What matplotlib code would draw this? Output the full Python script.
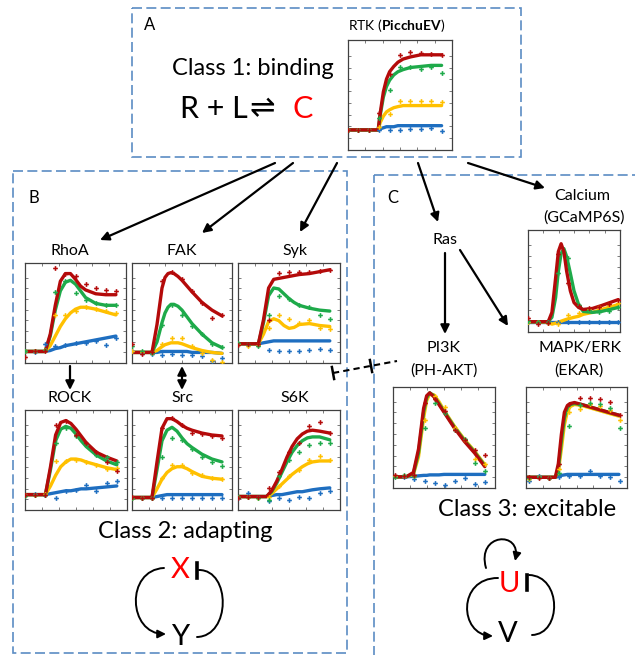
import matplotlib
matplotlib.use("Agg")
import matplotlib.pyplot as plt
from matplotlib.patches import Rectangle, FancyArrowPatch
from matplotlib.path import Path

plt.rcParams['font.family'] = ['Lato', 'DejaVu Sans']
plt.rcParams['mathtext.fontset'] = 'custom'
plt.rcParams['mathtext.rm'] = 'Lato'
plt.rcParams['mathtext.bf'] = 'Lato:bold'

# ---------------- data (series order: blue, yellow, green, red) ----------------
SERIES_COLORS = ['#1E6EC0', '#FFC000', '#1EAA4A', '#B40A0A']

# Class 1 : RTK (PicchuEV)
RTK_T = [0, 2.9, 3.1, 3.4, 3.7, 4.0, 4.4, 4.8, 5.3, 6, 7, 8, 9]
RTK_FIT = [
    [0.19, 0.19, 0.20, 0.21, 0.22, 0.22, 0.22, 0.23, 0.23, 0.23, 0.23, 0.23, 0.23],
    [0.19, 0.19, 0.26, 0.32, 0.36, 0.38, 0.40, 0.41, 0.42, 0.42, 0.42, 0.42, 0.42],
    [0.19, 0.19, 0.33, 0.50, 0.60, 0.66, 0.71, 0.74, 0.76, 0.78, 0.79, 0.80, 0.80],
    [0.19, 0.19, 0.35, 0.55, 0.67, 0.74, 0.79, 0.83, 0.86, 0.88, 0.90, 0.90, 0.90],
]
RTK_DT = [0, 1, 2, 3, 4, 5, 6, 7, 8, 9]
RTK_DOTS = [
    [0.19, 0.19, 0.19, 0.19, 0.19, 0.19, 0.20, 0.20, 0.21, 0.18],
    [0.19, 0.19, 0.19, 0.22, 0.34, 0.46, 0.46, 0.46, 0.46, 0.45],
    [0.19, 0.19, 0.19, 0.30, 0.57, 0.78, 0.78, 0.77, 0.78, 0.73],
    [0.19, 0.19, 0.19, 0.35, 0.72, 0.90, 0.93, 0.92, 0.91, 0.90],
]

# Class 2 : RhoA
RHOA_T = [0, 2, 2.5, 3, 3.5, 4, 4.5, 5, 5.5, 6, 7, 8, 9]
RHOA_FIT = [
    [0.12, 0.12, 0.13, 0.15, 0.16, 0.18, 0.19, 0.20, 0.21, 0.22, 0.24, 0.26, 0.28],
    [0.12, 0.12, 0.18, 0.28, 0.38, 0.46, 0.52, 0.56, 0.58, 0.58, 0.56, 0.53, 0.50],
    [0.12, 0.12, 0.28, 0.55, 0.75, 0.84, 0.86, 0.82, 0.75, 0.68, 0.62, 0.60, 0.60],
    [0.12, 0.12, 0.30, 0.60, 0.85, 0.93, 0.93, 0.87, 0.80, 0.76, 0.72, 0.71, 0.71],
]
RHOA_DT = [0, 1, 2, 3, 4, 5, 6, 7, 8, 9]
RHOA_DOTS = [
    [0.12, 0.11, 0.20, 0.18, 0.19, 0.21, 0.21, 0.23, 0.19, 0.26],
    [0.12, 0.12, 0.14, 0.50, 0.50, 0.54, 0.58, 0.56, 0.54, 0.52],
    [0.12, 0.12, 0.14, 0.74, 0.85, 0.73, 0.66, 0.62, 0.60, 0.60],
    [0.06, 0.12, 0.12, 0.99, 0.93, 0.90, 0.82, 0.78, 0.76, 0.75],
]

# FAK
FAK_T = [0, 2, 2.5, 3, 3.3, 3.6, 3.9, 4.2, 4.6, 5, 5.5, 6, 7, 8, 9]
FAK_FIT = [
    [0.11, 0.11, 0.11, 0.12, 0.12, 0.12, 0.12, 0.12, 0.12, 0.12, 0.12, 0.11, 0.11, 0.11, 0.10],
    [0.11, 0.11, 0.13, 0.17, 0.19, 0.20, 0.21, 0.21, 0.21, 0.20, 0.18, 0.16, 0.13, 0.11, 0.10],
    [0.11, 0.11, 0.22, 0.42, 0.52, 0.58, 0.61, 0.61, 0.59, 0.55, 0.48, 0.41, 0.30, 0.21, 0.16],
    [0.11, 0.11, 0.40, 0.78, 0.89, 0.93, 0.94, 0.93, 0.90, 0.86, 0.80, 0.74, 0.63, 0.55, 0.49],
]
FAK_DT = [0, 1, 2, 3, 4, 5, 6, 7, 8, 9]
FAK_DOTS = [
    [0.12, 0.10, 0.09, 0.08, 0.09, 0.08, 0.08, 0.07, 0.02, 0.05],
    [0.12, 0.11, 0.10, 0.20, 0.26, 0.26, 0.18, 0.10, 0.03, 0.01],
    [0.18, 0.12, 0.10, 0.40, 0.60, 0.50, 0.38, 0.30, 0.20, 0.17],
    [0.20, 0.09, 0.11, 0.85, 0.95, 0.87, 0.75, 0.62, 0.47, 0.50],
]

# Syk
SYK_T = [0, 2, 2.5, 3, 3.5, 4, 4.5, 5, 5.5, 6, 7, 8, 9]
SYK_FIT = [
    [0.20, 0.20, 0.21, 0.22, 0.23, 0.23, 0.23, 0.23, 0.23, 0.23, 0.23, 0.23, 0.23],
    [0.20, 0.20, 0.30, 0.43, 0.46, 0.44, 0.39, 0.36, 0.37, 0.40, 0.41, 0.39, 0.38],
    [0.20, 0.20, 0.42, 0.70, 0.78, 0.77, 0.72, 0.67, 0.63, 0.60, 0.57, 0.55, 0.54],
    [0.20, 0.20, 0.45, 0.78, 0.87, 0.88, 0.89, 0.90, 0.91, 0.92, 0.93, 0.95, 0.97],
]
SYK_DT = [0, 1, 2, 3, 4, 5, 6, 7, 8, 9]
SYK_DOTS = [
    [0.20, 0.19, 0.19, 0.14, 0.13, 0.12, 0.13, 0.14, 0.15, 0.14],
    [0.20, 0.18, 0.19, 0.36, 0.50, 0.46, 0.42, 0.45, 0.36, 0.35],
    [0.21, 0.20, 0.18, 0.50, 0.70, 0.67, 0.60, 0.58, 0.50, 0.46],
    [0.19, 0.20, 0.20, 0.45, 0.94, 0.95, 0.95, 0.95, 0.96, 0.97],
]

# ROCK
ROCK_T = [0, 2, 2.5, 3, 3.5, 4, 4.5, 5, 5.5, 6, 7, 8, 9]
ROCK_FIT = [
    [0.16, 0.16, 0.17, 0.18, 0.19, 0.20, 0.20, 0.21, 0.22, 0.22, 0.23, 0.24, 0.25],
    [0.16, 0.16, 0.25, 0.36, 0.45, 0.50, 0.53, 0.53, 0.52, 0.50, 0.47, 0.44, 0.42],
    [0.16, 0.16, 0.42, 0.72, 0.84, 0.87, 0.85, 0.79, 0.72, 0.66, 0.57, 0.51, 0.47],
    [0.16, 0.16, 0.45, 0.78, 0.91, 0.93, 0.90, 0.84, 0.77, 0.70, 0.60, 0.55, 0.51],
]
ROCK_DT = [0, 1, 2, 3, 4, 5, 6, 7, 8, 9]
ROCK_DOTS = [
    [0.16, 0.17, 0.16, 0.13, 0.20, 0.21, 0.26, 0.20, 0.28, 0.30],
    [0.16, 0.16, 0.17, 0.51, 0.51, 0.52, 0.50, 0.47, 0.43, 0.44],
    [0.15, 0.16, 0.16, 0.70, 0.85, 0.77, 0.68, 0.57, 0.55, 0.50],
    [0.16, 0.16, 0.16, 0.88, 0.93, 0.78, 0.70, 0.60, 0.50, 0.41],
]

# Src
SRC_T = [0, 2, 2.5, 3, 3.5, 4, 4.5, 5, 5.5, 6, 7, 8, 9]
SRC_FIT = [
    [0.13, 0.13, 0.14, 0.15, 0.16, 0.16, 0.16, 0.16, 0.16, 0.16, 0.16, 0.16, 0.16],
    [0.13, 0.13, 0.22, 0.32, 0.39, 0.43, 0.45, 0.45, 0.43, 0.40, 0.35, 0.33, 0.32],
    [0.13, 0.13, 0.42, 0.72, 0.83, 0.86, 0.82, 0.75, 0.69, 0.65, 0.58, 0.53, 0.50],
    [0.13, 0.13, 0.50, 0.85, 0.95, 0.95, 0.92, 0.88, 0.85, 0.83, 0.80, 0.78, 0.77],
]
SRC_DT = [0, 1, 2, 3, 4, 5, 6, 7, 8, 9]
SRC_DOTS = [
    [0.13, 0.13, 0.12, 0.12, 0.12, 0.12, 0.12, 0.13, 0.12, 0.13],
    [0.13, 0.13, 0.13, 0.33, 0.47, 0.47, 0.38, 0.36, 0.33, 0.32],
    [0.13, 0.13, 0.12, 0.55, 0.75, 0.73, 0.63, 0.55, 0.50, 0.46],
    [0.14, 0.13, 0.12, 0.85, 0.96, 0.88, 0.80, 0.79, 0.77, 0.75],
]

# S6K
S6K_T = [0, 2.8, 3.3, 3.8, 4.3, 4.8, 5.3, 5.8, 6.3, 6.8, 7.3, 8, 9]
S6K_FIT = [
    [0.14, 0.14, 0.15, 0.16, 0.16, 0.17, 0.18, 0.19, 0.19, 0.20, 0.21, 0.22, 0.23],
    [0.14, 0.14, 0.17, 0.22, 0.27, 0.32, 0.37, 0.41, 0.45, 0.48, 0.50, 0.51, 0.51],
    [0.14, 0.14, 0.19, 0.28, 0.39, 0.50, 0.60, 0.67, 0.72, 0.75, 0.76, 0.76, 0.73],
    [0.14, 0.14, 0.20, 0.30, 0.42, 0.55, 0.66, 0.74, 0.79, 0.82, 0.83, 0.82, 0.80],
]
S6K_DT = [0, 1, 2, 3, 4, 5, 6, 7, 8, 9]
S6K_DOTS = [
    [0.12, 0.18, 0.14, 0.09, 0.12, 0.10, 0.14, 0.12, 0.18, 0.20],
    [0.14, 0.14, 0.13, 0.14, 0.25, 0.35, 0.42, 0.52, 0.56, 0.52],
    [0.14, 0.14, 0.13, 0.10, 0.35, 0.52, 0.60, 0.68, 0.70, 0.70],
    [0.13, 0.14, 0.14, 0.23, 0.40, 0.60, 0.70, 0.87, 0.92, 0.80],
]

# Class 3 : Calcium (GCaMP6S)
CA_T = [0, 2.2, 2.6, 3.0, 3.3, 3.6, 3.9, 4.2, 4.6, 5.0, 5.5, 6, 7, 8, 9.8]
CA_FIT = [
    [0.105] * 15,
    [0.105, 0.10, 0.08, 0.09, 0.10, 0.11, 0.12, 0.13, 0.14, 0.15, 0.16, 0.18, 0.20, 0.23, 0.28],
    [0.105, 0.105, 0.15, 0.35, 0.62, 0.80, 0.85, 0.77, 0.60, 0.42, 0.28, 0.21, 0.20, 0.21, 0.25],
    [0.105, 0.105, 0.20, 0.55, 0.82, 0.90, 0.82, 0.62, 0.42, 0.30, 0.25, 0.23, 0.24, 0.27, 0.33],
]
CA_DT = [0, 1.1, 2.2, 3.3, 4.4, 5.5, 6.6, 7.7, 8.8, 9.8]
CA_DOTS = [
    [0.10, 0.10, 0.10, 0.10, 0.10, 0.10, 0.10, 0.10, 0.10, 0.10],
    [0.10, 0.10, 0.09, 0.08, 0.17, 0.19, 0.23, 0.25, 0.28, 0.30],
    [0.11, 0.10, 0.10, 0.60, 0.75, 0.28, 0.22, 0.20, 0.21, 0.25],
    [0.14, 0.08, 0.09, 0.80, 0.50, 0.27, 0.24, 0.25, 0.29, 0.33],
]

# PI3K (PH-AKT)
PI3K_T = [0, 1.3, 2.0, 2.5, 3.0, 3.3, 3.6, 4.0, 4.5, 5, 6, 7, 8, 9]
PI3K_FIT = [
    [0.115, 0.115, 0.12, 0.125, 0.13, 0.13, 0.135, 0.135, 0.135, 0.14, 0.14, 0.14, 0.14, 0.14],
    [0.115, 0.115, 0.14, 0.32, 0.72, 0.90, 0.97, 0.96, 0.89, 0.80, 0.64, 0.50, 0.38, 0.24],
    [0.115, 0.115, 0.15, 0.36, 0.78, 0.93, 0.98, 0.95, 0.87, 0.79, 0.63, 0.49, 0.37, 0.23],
    [0.115, 0.115, 0.16, 0.40, 0.82, 0.95, 0.98, 0.94, 0.86, 0.78, 0.62, 0.48, 0.36, 0.22],
]
PI3K_DT = [0.15, 1.1, 2.1, 3.1, 4.1, 5.1, 6.1, 7.1, 8.0, 9.0]
PI3K_DOTS = [
    [0.12, 0.11, 0.09, 0.075, 0.05, 0.03, 0.07, 0.10, 0.04, 0.06],
    [0.12, 0.12, 0.12, 0.70, 0.95, 0.83, 0.62, 0.49, 0.30, 0.25],
    [0.11, 0.13, 0.12, 0.62, 0.88, 0.77, 0.60, 0.50, 0.26, 0.18],
    [0.13, 0.12, 0.13, 0.88, 0.92, 0.79, 0.60, 0.49, 0.39, 0.34],
]

# MAPK/ERK (EKAR)
ERK_T = [0, 2.9, 3.2, 3.5, 3.8, 4.1, 4.4, 4.8, 5.5, 6.5, 7.5, 8.5, 9.2]
ERK_FIT = [
    [0.11, 0.11, 0.12, 0.13, 0.135, 0.14, 0.14, 0.14, 0.14, 0.14, 0.14, 0.14, 0.14],
    [0.11, 0.11, 0.17, 0.40, 0.65, 0.79, 0.84, 0.86, 0.85, 0.82, 0.79, 0.76, 0.74],
    [0.11, 0.11, 0.20, 0.48, 0.72, 0.83, 0.86, 0.87, 0.86, 0.83, 0.80, 0.77, 0.75],
    [0.11, 0.11, 0.25, 0.55, 0.78, 0.85, 0.87, 0.88, 0.86, 0.83, 0.80, 0.77, 0.75],
]
ERK_DT = [0.3, 1.3, 2.3, 3.3, 4.3, 5.3, 6.3, 7.3, 8.3, 9.3]
ERK_DOTS = [
    [0.075, 0.12, 0.10, 0.11, 0.12, 0.12, 0.18, 0.12, 0.11, 0.075],
    [0.09, 0.11, 0.10, 0.20, 0.78, 0.81, 0.86, 0.84, 0.80, 0.70],
    [0.10, 0.11, 0.10, 0.15, 0.64, 0.85, 0.88, 0.86, 0.82, 0.62],
    [0.11, 0.10, 0.10, 0.25, 0.87, 0.93, 0.93, 0.92, 0.89, 0.75],
]

# ---------------- figure ----------------
W, H = 635, 655
fig = plt.figure(figsize=(W / 100, H / 100), dpi=100)
ov = fig.add_axes([0, 0, 1, 1], zorder=0)
ov.set_xlim(0, W)
ov.set_ylim(H, 0)
ov.axis('off')

BOX_COLOR = '#5B8CC4'


def dashed_box(x0, y0, x1, y1):
    ov.add_patch(Rectangle((x0, y0), x1 - x0, y1 - y0, fill=False,
                           edgecolor=BOX_COLOR, lw=1.2, linestyle=(0, (6, 2.6))))


dashed_box(132, 8, 521, 157)
dashed_box(13, 171, 347, 653)
dashed_box(374, 175, 645, 700)


def small_plot(rect, t, fits, dt, dots):
    x0, y0, x1, y1 = rect
    ax = fig.add_axes([x0 / W, 1 - y1 / H, (x1 - x0) / W, (y1 - y0) / H], zorder=2)
    for vals, c in zip(fits, SERIES_COLORS):
        ax.plot(t, vals, color=c, lw=2.4, solid_capstyle='round',
                solid_joinstyle='round', zorder=2)
    for vals, c in zip(dots, SERIES_COLORS):
        ax.plot(dt, vals, 'P', color=c, ms=3.4, mew=0, zorder=3)
    ax.set_xlim(0, 10)
    ax.set_ylim(0, 1.04)
    ax.set_xticks([10 * i / 6 for i in range(1, 6)])
    ax.set_yticks([i / 9 for i in range(1, 9)])
    ax.tick_params(direction='in', length=2, width=0.6, colors='#666666',
                   top=True, right=True, labelbottom=False, labelleft=False)
    for s in ax.spines.values():
        s.set_color('#404040')
        s.set_linewidth(0.9)
    return ax


small_plot((348, 40, 452, 150), RTK_T, RTK_FIT, RTK_DT, RTK_DOTS)
small_plot((25, 263, 126, 363), RHOA_T, RHOA_FIT, RHOA_DT, RHOA_DOTS)
small_plot((132, 263, 232, 363), FAK_T, FAK_FIT, FAK_DT, FAK_DOTS)
small_plot((238, 263, 340, 363), SYK_T, SYK_FIT, SYK_DT, SYK_DOTS)
small_plot((25, 410, 127, 510), ROCK_T, ROCK_FIT, ROCK_DT, ROCK_DOTS)
small_plot((132, 410, 232, 510), SRC_T, SRC_FIT, SRC_DT, SRC_DOTS)
small_plot((238, 410, 340, 510), S6K_T, S6K_FIT, S6K_DT, S6K_DOTS)
small_plot((528, 230, 620, 332), CA_T, CA_FIT, CA_DT, CA_DOTS)
small_plot((393, 387, 495, 488), PI3K_T, PI3K_FIT, PI3K_DT, PI3K_DOTS)
small_plot((526, 387, 627, 488), ERK_T, ERK_FIT, ERK_DT, ERK_DOTS)


def label(x, y, s, size, color='black', ha='center', **kw):
    ov.text(x, y, s, fontsize=size, color=color, ha=ha, va='baseline', **kw)


# panel letters
label(150, 30, 'A', 12)
label(34, 203, 'B', 12)
label(393, 203, 'C', 12)

# panel A texts
label(397, 30, r'RTK ($\mathbf{PicchuEV}$)', 10)
label(253, 75, 'Class 1: binding', 17)
label(180, 118, 'R + L', 22, ha='left')
ov.text(262, 117, '\u21CC', fontsize=22, ha='center', va='baseline',
        family=['DejaVu Sans'])
label(293, 118, 'C', 22, color='#FF0000', ha='left')

# panel B texts
label(70, 255, 'RhoA', 11.5)
label(182, 255, 'FAK', 11.5)
label(295, 255, 'Syk', 11.5)
label(70, 402, 'ROCK', 11.5)
label(183, 402, 'Src', 11.5)
label(295, 402, 'S6K', 11.5)
label(185, 538, 'Class 2: adapting', 17)

# panel C texts
label(445, 244, 'Ras', 11.5)
label(582, 200, 'Calcium', 11.5)
label(584, 222, '(GCaMP6S)', 11.5)
label(443, 352, 'PI3K', 11.5)
label(444, 375, '(PH-AKT)', 11.5)
label(580, 352, 'MAPK/ERK', 11.5)
label(579, 375, '(EKAR)', 11.5)
label(527, 516, 'Class 3: excitable', 17)


def arrow(p0, p1, style='-|>'):
    ov.add_patch(FancyArrowPatch(p0, p1, arrowstyle=style, mutation_scale=13,
                                 lw=1.6, color='black', shrinkA=0, shrinkB=0))


arrow((275, 163), (100, 240))
arrow((293, 163), (202, 233))
arrow((337, 163), (300, 232))
arrow((418, 163), (438, 222))
arrow((468, 163), (545, 188))
arrow((445, 253), (445, 334))
arrow((460, 250), (508, 326))
arrow((70, 366), (70, 390))
arrow((182, 366), (182, 390), style='<|-|>')

# dashed inhibition between S6K and PI3K
ov.plot([333, 397], [373, 361], color='black', lw=1.5, linestyle=(0, (3, 2)))
for cx, cy in [(333, 373), (371, 366)]:
    ov.plot([cx - 1.1, cx + 1.1], [cy - 6, cy + 6], color='black', lw=1.8)


def curve(pts, head=True):
    path = Path(pts, [Path.MOVETO, Path.CURVE4, Path.CURVE4, Path.CURVE4])
    ov.add_patch(FancyArrowPatch(path=path, arrowstyle='-|>' if head else '-',
                                 mutation_scale=12, lw=1.4, color='black'))


# Class 2 motif
label(180, 578, 'X', 21, color='#FF0000')
label(180, 645, 'Y', 21)
ov.plot([197, 197], [563, 578], color='black', lw=2.6)
curve([(164, 568), (125, 570), (128, 634), (166, 634)])
curve([(197, 637), (231, 636), (231, 570), (199, 570)], head=False)

# Class 3 motif
label(509, 592, 'U', 21, color='#FF0000')
label(508, 642, 'V', 21)
ov.plot([527, 527], [575, 590], color='black', lw=2.6)
curve([(486, 568), (476, 533), (522, 530), (515, 561)])
curve([(498, 578), (457, 578), (459, 635), (493, 636)])
curve([(532, 635), (562, 634), (562, 576), (529, 575)], head=False)

fig.savefig('out.png', dpi=100)
